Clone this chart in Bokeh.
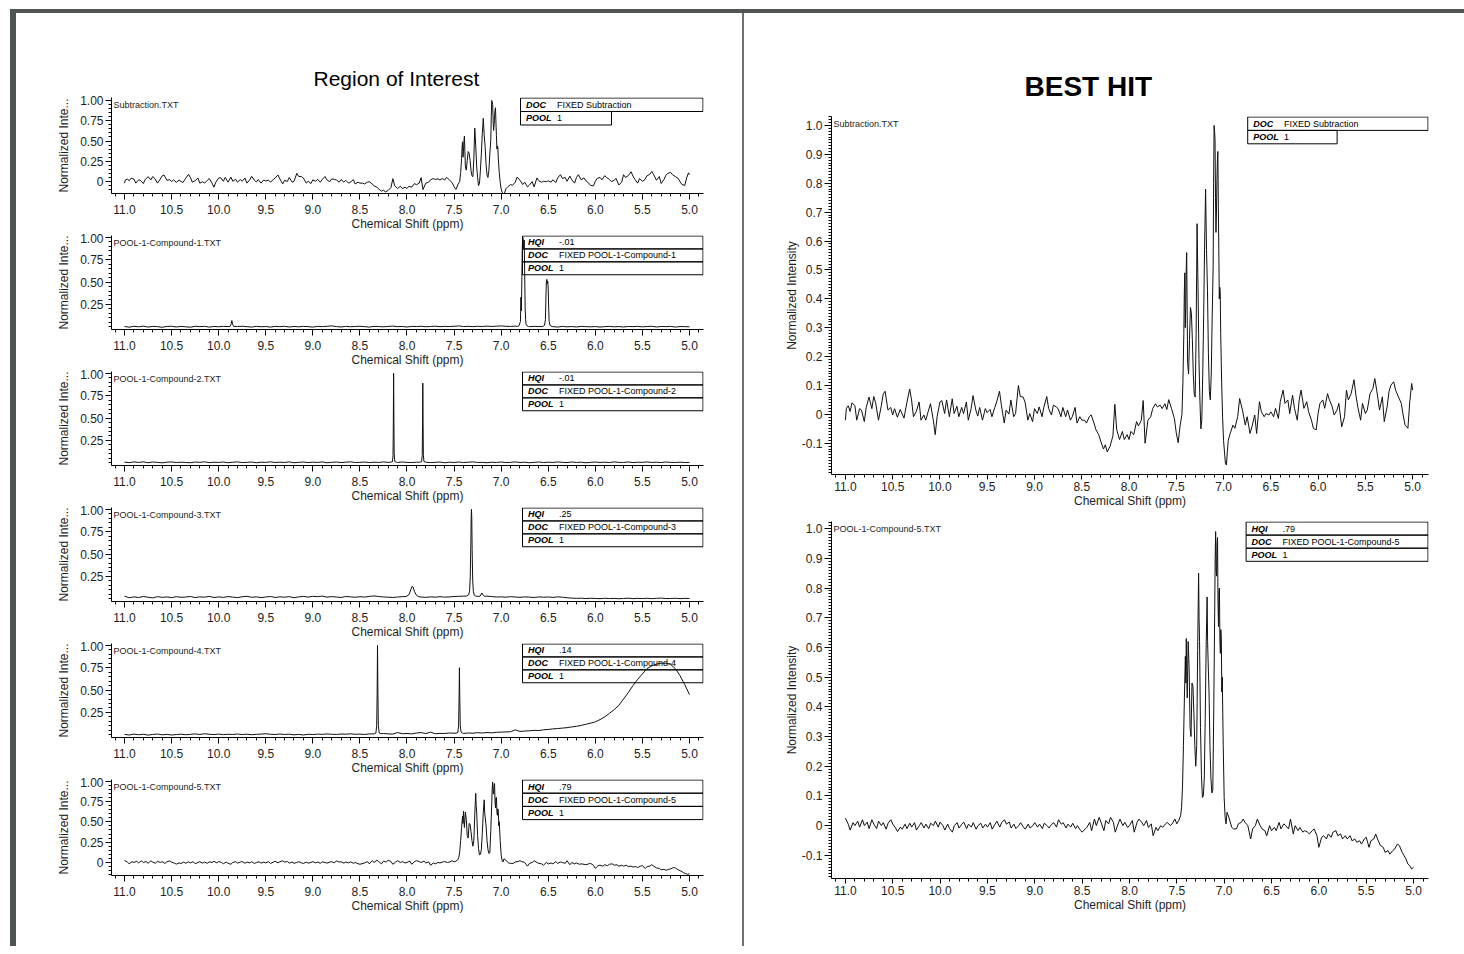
import numpy as np
from bokeh.plotting import figure
from bokeh.models import (Range1d, FixedTicker, CustomJSTickFormatter, Label,
                          Div, Spacer, ColumnDataSource)
from bokeh.layouts import column, row
from bokeh.embed import file_html
from bokeh.resources import INLINE

# ------------------------------------------------------------------ data
# Subtraction.TXT  (ppm, normalized intensity)
sub_a = [(11.00, -0.020), (10.99, 0.020), (10.97, 0.030), (10.95, 0.010), (10.93, 0.040),
         (10.90, 0.030), (10.88, -0.020), (10.85, 0.020), (10.83, 0.015), (10.80, -0.025),
         (10.78, 0.024), (10.75, 0.060), (10.72, 0.020), (10.70, 0.062), (10.68, 0.040),
         (10.65, -0.020), (10.62, 0.030), (10.60, 0.070), (10.58, 0.080), (10.55, 0.015),
         (10.52, 0.024), (10.50, -0.002), (10.48, 0.020), (10.45, -0.010), (10.42, 0.017),
         (10.38, -0.013), (10.35, 0.040), (10.32, 0.088), (10.30, 0.050), (10.28, -0.008),
         (10.25, 0.010), (10.22, 0.043), (10.20, -0.020), (10.17, -0.002), (10.15, -0.020),
         (10.12, 0.015), (10.10, 0.037), (10.07, -0.020), (10.05, -0.070), (10.03, -0.008),
         (10.00, 0.043), (9.98, 0.048), (9.95, 0.003), (9.93, 0.050), (9.90, -0.008),
         (9.87, 0.054), (9.85, 0.003), (9.82, 0.028), (9.80, -0.008), (9.77, 0.024),
         (9.75, 0.003), (9.72, 0.043), (9.70, -0.020), (9.67, 0.020), (9.65, 0.065),
         (9.62, 0.015), (9.60, -0.006), (9.58, 0.024), (9.55, -0.020), (9.52, 0.020),
         (9.50, 0.006), (9.47, 0.017), (9.45, -0.008), (9.42, 0.024), (9.40, 0.043),
         (9.37, 0.080), (9.35, 0.032), (9.32, -0.030), (9.30, 0.015), (9.27, 0.001),
         (9.25, 0.050), (9.22, -0.008), (9.20, 0.003), (9.17, 0.100), (9.15, 0.062),
         (9.12, 0.060), (9.10, 0.043), (9.07, -0.020), (9.05, 0.003), (9.02, -0.025)]
sub_b = [(9.00, 0.020), (8.97, 0.003), (8.95, 0.026), (8.92, -0.008), (8.90, 0.026),
         (8.87, 0.062), (8.85, 0.020), (8.82, -0.002), (8.80, 0.032), (8.77, 0.026),
         (8.75, 0.020), (8.72, -0.008), (8.70, 0.024), (8.67, -0.008), (8.65, 0.015),
         (8.62, -0.020), (8.60, -0.008), (8.57, 0.024), (8.55, -0.030), (8.52, -0.008),
         (8.50, -0.020), (8.47, -0.020), (8.45, -0.030), (8.42, -0.008), (8.40, -0.002),
         (8.37, -0.030), (8.35, -0.053), (8.32, -0.070), (8.30, -0.092), (8.27, -0.120),
         (8.25, -0.105), (8.23, -0.130), (8.20, -0.110), (8.17, -0.074), (8.15, 0.035),
         (8.13, -0.053), (8.10, -0.087), (8.07, -0.059), (8.05, -0.087), (8.02, -0.070),
         (8.00, -0.087), (7.98, -0.059), (7.95, -0.070), (7.92, -0.025), (7.90, -0.040),
         (7.87, -0.020), (7.85, 0.048), (7.83, -0.100), (7.80, -0.020), (7.77, -0.008),
         (7.75, 0.020), (7.72, 0.037), (7.70, 0.026), (7.67, 0.032), (7.65, 0.020),
         (7.62, 0.037), (7.60, 0.017), (7.58, 0.051), (7.55, 0.020), (7.52, -0.014),
         (7.50, -0.064), (7.48, -0.098), (7.46, -0.040)]
sub_peaks = [(7.44, 0.00), (7.43, 0.11), (7.42, 0.28), (7.415, 0.42), (7.41, 0.49),
             (7.405, 0.30), (7.40, 0.37), (7.395, 0.50), (7.39, 0.56), (7.38, 0.18),
             (7.37, 0.14), (7.36, 0.26), (7.35, 0.37), (7.34, 0.35), (7.33, 0.26),
             (7.32, 0.14), (7.31, 0.07), (7.30, 0.06), (7.29, 0.28), (7.28, 0.66),
             (7.27, 0.44), (7.26, 0.19), (7.25, 0.05), (7.24, -0.05), (7.23, -0.02),
             (7.22, 0.14), (7.21, 0.35), (7.20, 0.59), (7.19, 0.78), (7.18, 0.57),
             (7.17, 0.43), (7.16, 0.21), (7.15, 0.08), (7.14, 0.05), (7.13, 0.14),
             (7.12, 0.34), (7.11, 0.51), (7.105, 0.80), (7.10, 1.00), (7.095, 0.98),
             (7.09, 0.95), (7.085, 0.75), (7.08, 0.63), (7.075, 0.70), (7.07, 0.81),
             (7.065, 0.88), (7.06, 0.91), (7.055, 0.72), (7.05, 0.57), (7.045, 0.40),
             (7.04, 0.44), (7.035, 0.42), (7.03, 0.28), (7.02, 0.11), (7.01, -0.01),
             (7.00, -0.09), (6.99, -0.13), (6.98, -0.17), (6.97, -0.175), (6.96, -0.13),
             (6.95, -0.09)]
sub_c = [(6.93, -0.066), (6.90, -0.037), (6.88, -0.048), (6.85, -0.008), (6.83, 0.055),
         (6.80, 0.015), (6.77, -0.037), (6.75, -0.008), (6.72, -0.066), (6.70, -0.043),
         (6.67, -0.002), (6.65, -0.066), (6.62, 0.044), (6.60, 0.009), (6.57, -0.008),
         (6.55, 0.003), (6.52, -0.002), (6.50, 0.009), (6.47, -0.008), (6.45, 0.021),
         (6.42, -0.014), (6.40, 0.044), (6.37, 0.084), (6.35, 0.038), (6.32, 0.050),
         (6.30, 0.003), (6.27, 0.067), (6.25, 0.021), (6.22, -0.020), (6.20, 0.050),
         (6.18, 0.084), (6.15, 0.021), (6.12, 0.044), (6.10, 0.009), (6.07, -0.020),
         (6.05, -0.048), (6.02, -0.054), (6.00, 0.003), (5.98, 0.038), (5.95, 0.050),
         (5.93, 0.021), (5.90, 0.072), (5.88, 0.050), (5.85, 0.026), (5.83, -0.002),
         (5.80, 0.015), (5.78, 0.038), (5.75, -0.043), (5.72, -0.008), (5.70, 0.084),
         (5.68, 0.050), (5.65, 0.072), (5.62, 0.120), (5.60, 0.067), (5.58, 0.026),
         (5.55, -0.020), (5.53, 0.038), (5.50, 0.003), (5.48, 0.015), (5.45, 0.072),
         (5.42, 0.090), (5.40, 0.124), (5.38, 0.084), (5.35, 0.015), (5.32, 0.061),
         (5.30, -0.025), (5.27, 0.026), (5.25, 0.078), (5.23, 0.101), (5.20, 0.113),
         (5.18, 0.084), (5.15, 0.061), (5.12, 0.038), (5.10, -0.002), (5.08, -0.037),
         (5.05, -0.048), (5.03, 0.044), (5.01, 0.107), (5.00, 0.084)]

# POOL-1-Compound-5.TXT  (ppm, normalized intensity)
c5_a = [(11.00, 0.025), (10.97, 0.005), (10.95, -0.015), (10.92, 0.010), (10.90, 0.000),
        (10.87, 0.015), (10.85, -0.005), (10.82, 0.020), (10.80, 0.000), (10.77, 0.012),
        (10.75, -0.010), (10.72, 0.020), (10.70, 0.005), (10.67, -0.010), (10.65, 0.015),
        (10.62, 0.000), (10.60, 0.010), (10.57, -0.012), (10.55, 0.008), (10.52, 0.020),
        (10.50, 0.005), (10.47, -0.008), (10.45, -0.020), (10.42, -0.005), (10.40, -0.012),
        (10.37, 0.005), (10.35, -0.010), (10.32, 0.008), (10.30, -0.005), (10.27, 0.010),
        (10.25, -0.015), (10.22, 0.000), (10.20, 0.010), (10.17, -0.008), (10.15, 0.005),
        (10.12, -0.010), (10.10, 0.008), (10.07, 0.000), (10.05, 0.015), (10.02, -0.005),
        (10.00, 0.012), (9.97, 0.000), (9.95, -0.015), (9.92, 0.005), (9.90, -0.010),
        (9.87, -0.022), (9.85, 0.000), (9.82, 0.010), (9.80, -0.008), (9.77, 0.005),
        (9.75, 0.012), (9.72, -0.010), (9.70, 0.005), (9.67, -0.005), (9.65, 0.010),
        (9.62, -0.012), (9.60, 0.000), (9.57, 0.008), (9.55, -0.008), (9.52, 0.005),
        (9.50, -0.005), (9.47, 0.010), (9.45, -0.012), (9.42, 0.005), (9.40, 0.015),
        (9.37, -0.005), (9.35, 0.010), (9.32, 0.020), (9.30, 0.005), (9.27, 0.012),
        (9.25, -0.008), (9.22, 0.005), (9.20, -0.010), (9.17, 0.000), (9.15, 0.010),
        (9.12, -0.005), (9.10, -0.012), (9.07, 0.005), (9.05, -0.008), (9.02, 0.000),
        (9.00, 0.010), (8.97, -0.005), (8.95, 0.005), (8.92, -0.010), (8.90, 0.008),
        (8.87, 0.000), (8.85, -0.008), (8.82, 0.005), (8.80, 0.010), (8.77, -0.005),
        (8.75, 0.020), (8.72, 0.005), (8.70, 0.010), (8.67, -0.008), (8.65, 0.005),
        (8.62, -0.005), (8.60, 0.008), (8.57, -0.010), (8.55, 0.000), (8.52, -0.015)]
c5_b = [(8.50, -0.022), (8.45, -0.006), (8.42, 0.011), (8.40, -0.017), (8.37, 0.022),
        (8.35, 0.000), (8.32, 0.028), (8.30, 0.011), (8.27, -0.017), (8.25, 0.017),
        (8.22, 0.006), (8.20, 0.028), (8.17, 0.011), (8.15, -0.022), (8.12, 0.006),
        (8.10, 0.022), (8.07, 0.000), (8.05, 0.011), (8.02, -0.006), (8.00, 0.000),
        (7.97, 0.017), (7.95, -0.022), (7.92, 0.011), (7.90, 0.022), (7.87, 0.011),
        (7.85, 0.000), (7.82, 0.017), (7.80, -0.006), (7.77, 0.006), (7.75, -0.034),
        (7.72, -0.006), (7.70, -0.017), (7.67, 0.000), (7.65, -0.006), (7.62, 0.006),
        (7.60, 0.011), (7.57, 0.000), (7.55, 0.006), (7.52, 0.022), (7.50, 0.006),
        (7.48, 0.017), (7.46, 0.034)]
c5_peaks = [(7.45, 0.06), (7.44, 0.13), (7.43, 0.27), (7.42, 0.43), (7.41, 0.57),
            (7.405, 0.48), (7.40, 0.63), (7.395, 0.52), (7.39, 0.43), (7.38, 0.62),
            (7.37, 0.53), (7.36, 0.33), (7.35, 0.30), (7.34, 0.48), (7.33, 0.47),
            (7.32, 0.38), (7.31, 0.27), (7.30, 0.20), (7.29, 0.27), (7.28, 0.59),
            (7.27, 0.85), (7.265, 0.70), (7.26, 0.62), (7.25, 0.33), (7.24, 0.17),
            (7.23, 0.095), (7.22, 0.10), (7.21, 0.16), (7.20, 0.36), (7.19, 0.61),
            (7.18, 0.77), (7.175, 0.62), (7.17, 0.56), (7.16, 0.45), (7.15, 0.27),
            (7.14, 0.16), (7.13, 0.11), (7.12, 0.12), (7.11, 0.39), (7.10, 0.72),
            (7.095, 0.90), (7.09, 0.99), (7.085, 0.86), (7.08, 0.84), (7.075, 0.95),
            (7.07, 0.97), (7.065, 0.75), (7.06, 0.67), (7.055, 0.79), (7.05, 0.80),
            (7.045, 0.62), (7.04, 0.58), (7.035, 0.66), (7.03, 0.63), (7.025, 0.45),
            (7.02, 0.50), (7.01, 0.27), (7.00, 0.095), (6.99, 0.028), (6.98, 0.006)]
c5_c = [(6.97, 0.045), (6.95, 0.028), (6.92, -0.006), (6.90, -0.011), (6.87, -0.011),
        (6.85, 0.006), (6.82, 0.011), (6.80, 0.022), (6.78, 0.011), (6.75, 0.000),
        (6.72, -0.045), (6.70, -0.011), (6.67, 0.000), (6.65, 0.022), (6.62, 0.000),
        (6.60, -0.011), (6.57, -0.017), (6.55, -0.034), (6.52, 0.000), (6.50, -0.017),
        (6.47, -0.006), (6.45, -0.017), (6.42, 0.011), (6.40, -0.011), (6.37, 0.006),
        (6.35, 0.000), (6.32, -0.011), (6.30, 0.022), (6.27, -0.028), (6.25, 0.000),
        (6.22, -0.017), (6.20, -0.006), (6.17, -0.022), (6.15, -0.017), (6.12, -0.022),
        (6.10, -0.028), (6.07, -0.017), (6.05, -0.011), (6.02, -0.034), (6.00, -0.073),
        (5.97, -0.039), (5.95, -0.034), (5.92, -0.045), (5.90, -0.028), (5.87, -0.039),
        (5.85, -0.022), (5.82, -0.017), (5.80, -0.034), (5.77, -0.028), (5.75, -0.045),
        (5.72, -0.034), (5.70, -0.045), (5.67, -0.034), (5.65, -0.051), (5.62, -0.045),
        (5.60, -0.056), (5.57, -0.051), (5.55, -0.062), (5.52, -0.045), (5.50, -0.039),
        (5.47, -0.073), (5.45, -0.051), (5.42, -0.045), (5.40, -0.028), (5.38, -0.045),
        (5.35, -0.067), (5.32, -0.073), (5.30, -0.090), (5.27, -0.084), (5.25, -0.096),
        (5.22, -0.084), (5.20, -0.079), (5.17, -0.062), (5.15, -0.067), (5.12, -0.090),
        (5.10, -0.101), (5.08, -0.112), (5.06, -0.129), (5.04, -0.135), (5.02, -0.146),
        (5.00, -0.140)]

# Compound baselines sampled every 0.05 ppm from 11.00 to 5.00 (121 values)
c1_base = [0.004, -0.004, 0.006, 0.000, 0.008, -0.003, 0.005, 0.002, -0.005, 0.004,
           0.006, -0.002, 0.005, 0.000, -0.004, 0.006, 0.002, 0.005, -0.003, 0.004,
           0.001, 0.005, 0.003, -0.002, 0.004, 0.006, 0.002, -0.003, 0.005, 0.001,
           0.003, -0.003, 0.005, 0.002, 0.006, -0.002, 0.004, 0.000, 0.005, 0.002,
           -0.003, 0.005, 0.002, 0.006, 0.010, 0.003, -0.002, 0.005, 0.001, 0.004,
           0.006, 0.002, -0.003, 0.005, 0.003, 0.000, 0.005, 0.008, 0.002, 0.004,
           -0.002, 0.005, 0.003, 0.006, 0.001, 0.004, 0.007, 0.002, 0.005, 0.003,
           0.006, 0.010, 0.003, 0.005, 0.002, 0.006, 0.003, 0.008, 0.004, 0.007,
           0.010, 0.006, 0.004, 0.008, 0.006, 0.003, 0.002, 0.005, 0.003, 0.002,
           0.003, 0.002, -0.003, 0.005, 0.000, 0.003, -0.002, 0.005, 0.002, 0.000,
           0.003, -0.003, 0.002, 0.005, 0.000, 0.003, -0.002, 0.004, 0.002, 0.005,
           0.000, 0.003, 0.006, -0.002, 0.004, 0.002, 0.005, -0.003, 0.003, 0.002,
           0.000]
c1_spike = [(9.88, 0.004), (9.868, 0.03), (9.86, 0.07), (9.852, 0.03), (9.84, 0.004)]
c1_peak_a = [(6.83, 0.004), (6.81, 0.012), (6.795, 0.06), (6.79, 0.33), (6.785, 0.18),
             (6.78, 0.55), (6.775, 0.90), (6.77, 1.00), (6.765, 0.96), (6.76, 0.88),
             (6.755, 0.97), (6.75, 0.60), (6.745, 0.22), (6.74, 0.08), (6.735, 0.03),
             (6.725, 0.01), (6.71, 0.004)]
c1_peak_b = [(6.56, 0.003), (6.54, 0.015), (6.53, 0.08), (6.525, 0.30), (6.52, 0.50),
             (6.515, 0.53), (6.51, 0.48), (6.505, 0.51), (6.50, 0.42), (6.495, 0.20),
             (6.49, 0.06), (6.48, 0.015), (6.46, 0.003)]

c2_base = [0.008, 0.002, 0.010, 0.004, 0.011, 0.001, 0.009, 0.005, 0.000, 0.007,
           0.010, 0.003, 0.007, 0.004, 0.001, 0.009, 0.005, 0.011, 0.002, 0.007,
           0.004, 0.009, 0.001, 0.007, 0.010, 0.003, 0.005, 0.009, 0.001, 0.007,
           0.005, 0.011, 0.003, 0.007, 0.004, 0.010, 0.001, 0.005, 0.009, 0.003,
           0.007, 0.004, 0.010, 0.001, 0.005, 0.009, 0.003, 0.007, 0.011, 0.004,
           0.005, 0.009, 0.003, 0.007, 0.004, 0.010, 0.005, 0.007, 0.004, 0.009,
           0.005, 0.003, 0.007, 0.004, 0.010, 0.003, 0.005, 0.009, 0.001, 0.007,
           0.004, 0.009, 0.003, 0.007, 0.010, 0.004, 0.005, 0.001, 0.007, 0.004,
           0.009, 0.003, 0.005, 0.010, 0.004, 0.007, 0.001, 0.005, 0.009, 0.003,
           0.007, 0.004, 0.010, 0.005, 0.003, 0.009, 0.004, 0.007, 0.001, 0.005,
           0.009, 0.004, 0.007, 0.003, 0.010, 0.005, 0.004, 0.009, 0.003, 0.007,
           0.005, 0.010, 0.004, 0.007, 0.003, 0.009, 0.005, 0.004, 0.007, 0.003,
           0.005]
c2_peak_a = [(8.18, 0.006), (8.155, 0.012), (8.148, 0.08), (8.145, 0.45), (8.142, 1.00),
             (8.139, 0.50), (8.136, 0.10), (8.13, 0.015), (8.11, 0.006)]
c2_peak_b = [(7.87, 0.006), (7.845, 0.012), (7.838, 0.08), (7.835, 0.42), (7.832, 0.89),
             (7.829, 0.45), (7.826, 0.09), (7.82, 0.015), (7.80, 0.006)]

c3_base = [0.030, 0.012, 0.022, 0.015, 0.025, 0.018, 0.010, 0.024, 0.016, 0.021,
           0.013, 0.024, 0.017, 0.020, 0.026, 0.014, 0.022, 0.018, 0.027, 0.015,
           0.021, 0.016, 0.025, 0.019, 0.013, 0.023, 0.028, 0.017, 0.022, 0.014,
           0.020, 0.026, 0.015, 0.022, 0.018, 0.024, 0.013, 0.021, 0.027, 0.019,
           0.028, 0.024, 0.030, 0.018, 0.025, 0.020, 0.015, 0.026, 0.022, 0.017,
           0.024, 0.019, 0.027, 0.032, 0.026, 0.021, 0.018, 0.015, 0.020, 0.024,
           0.025, 0.030, 0.028, 0.020, 0.016, 0.022, 0.018, 0.024, 0.019, 0.021,
           0.026, 0.028, 0.030, 0.035, 0.030, 0.028, 0.024, 0.030, 0.025, 0.020,
           0.022, 0.018, 0.024, 0.020, 0.016, 0.022, 0.019, 0.015, 0.021, 0.018,
           0.020, 0.016, 0.022, 0.018, 0.012, 0.008, 0.005, 0.007, 0.003, 0.006,
           0.004, 0.002, 0.006, 0.003, 0.005, 0.001, 0.004, 0.007, 0.002, 0.005,
           0.003, 0.006, 0.002, 0.005, 0.008, 0.003, 0.004, 0.006, 0.002, 0.005,
           0.004]
c3_bump_a = [(8.01, 0.025), (7.98, 0.045), (7.96, 0.10), (7.945, 0.14), (7.935, 0.13),
             (7.92, 0.08), (7.90, 0.04), (7.88, 0.025)]
c3_peak = [(7.37, 0.030), (7.345, 0.045), (7.335, 0.09), (7.328, 0.25), (7.322, 0.60),
           (7.318, 0.92), (7.315, 1.00), (7.312, 0.90), (7.308, 0.55), (7.302, 0.20),
           (7.295, 0.08), (7.285, 0.04), (7.27, 0.030)]
c3_bump_b = [(7.225, 0.028), (7.205, 0.065), (7.19, 0.040), (7.175, 0.028)]

c4_base = [0.005, -0.002, 0.008, 0.001, 0.006, -0.003, 0.004, 0.009, 0.000, 0.005,
           -0.002, 0.003, 0.007, 0.001, 0.005, 0.010, 0.004, 0.012, 0.006, 0.003,
           0.008, 0.002, 0.006, 0.004, 0.009, 0.003, 0.007, 0.001, 0.005, 0.008,
           0.012, 0.006, 0.003, 0.009, 0.004, 0.007, 0.000, 0.005, -0.002, 0.006,
           0.003, 0.008, 0.005, 0.010, 0.006, 0.004, 0.009, 0.007, 0.011, 0.006,
           0.008, 0.004, 0.010, 0.012, 0.006, 0.015, 0.010, 0.008, 0.025, 0.012,
           0.015, 0.010, 0.020, 0.025, 0.014, 0.030, 0.012, 0.016, 0.015, 0.020,
           0.018, 0.022, 0.016, 0.020, 0.018, 0.024, 0.020, 0.026, 0.022, 0.028,
           0.030, 0.032, 0.035, 0.055, 0.038, 0.042, 0.045, 0.050, 0.048, 0.056,
           0.060, 0.066, 0.070, 0.075, 0.080, 0.088, 0.095, 0.105, 0.118, 0.130,
           0.145, 0.170, 0.200, 0.240, 0.280, 0.330, 0.400, 0.470, 0.550, 0.620,
           0.680, 0.740, 0.770, 0.790, 0.800, 0.800, 0.785, 0.740, 0.660, 0.560,
           0.450]
c4_peak_a = [(8.35, 0.010), (8.33, 0.020), (8.322, 0.10), (8.317, 0.45), (8.313, 1.00),
             (8.309, 0.50), (8.304, 0.10), (8.295, 0.020), (8.275, 0.012)]
c4_peak_b = [(7.48, 0.018), (7.46, 0.025), (7.452, 0.10), (7.447, 0.38), (7.443, 0.75),
             (7.439, 0.40), (7.434, 0.10), (7.425, 0.030), (7.41, 0.018)]

# annotation table texts
hqi_values = ["-.01", "-.01", ".25", ".14", ".79"]
doc_values = ["FIXED POOL-1-Compound-1", "FIXED POOL-1-Compound-2", "FIXED POOL-1-Compound-3",
              "FIXED POOL-1-Compound-4", "FIXED POOL-1-Compound-5"]
file_names = ["POOL-1-Compound-1.TXT", "POOL-1-Compound-2.TXT", "POOL-1-Compound-3.TXT",
              "POOL-1-Compound-4.TXT", "POOL-1-Compound-5.TXT"]

# ------------------------------------------------------------------ helpers
FONT = "Liberation Sans"
LINE_COLOR = "#101010"
TEXT_COLOR = "#1e1e1e"


def from_pairs(*segments):
    pts = sorted([p for s in segments for p in s], key=lambda p: -p[0])
    return np.array([p[0] for p in pts]), np.array([p[1] for p in pts])


def from_base(base, *groups):
    assert len(base) == 121, len(base)
    grid = np.round(np.linspace(11.0, 5.0, 121), 3)
    keep = np.ones(len(grid), bool)
    for g in groups:
        gx = [p[0] for p in g]
        keep &= ~((grid >= min(gx) - 1e-9) & (grid <= max(gx) + 1e-9))
    xs = list(grid[keep]) + [p[0] for g in groups for p in g]
    ys = list(np.array(base)[keep]) + [p[1] for g in groups for p in g]
    order = np.argsort(xs)[::-1]
    return np.array(xs)[order], np.array(ys)[order]


X_MAJOR = [round(11.0 - 0.5 * i, 2) for i in range(13)]
X_MINOR = [round(11.1 - 0.1 * i, 2) for i in range(63)]

fmt1 = CustomJSTickFormatter(code="return Math.abs(tick) < 1e-9 ? '0' : tick.toFixed(1);")
fmt2 = CustomJSTickFormatter(code="return Math.abs(tick) < 1e-9 ? '0' : tick.toFixed(2);")


def spectrum_fig(ppm, inten, *, fw, fh, bl, br, bt, bb, xr, yr, yticks, ystep, yfmt,
                 ytitle, file_label, rows, box_l, row_h, big=False, title=None):
    p = figure(width=bl + fw + br, height=bt + fh + bb,
               x_range=Range1d(*xr), y_range=Range1d(*yr),
               output_backend="svg", toolbar_location=None, tools="",
               min_border_left=bl, min_border_right=br,
               min_border_top=bt, min_border_bottom=bb, title=title)
    p.outline_line_color = None
    p.xgrid.visible = False
    p.ygrid.visible = False
    p.background_fill_color = "white"
    p.border_fill_color = "white"

    def sx(px):
        return xr[0] + (xr[1] - xr[0]) * px / fw

    def sy(py):
        return yr[1] - (yr[1] - yr[0]) * py / fh

    # annotation table (under the trace)
    for i, (key, val, rright) in enumerate(rows):
        top = 0.5 + i * row_h
        bot = top + row_h
        p.quad(left=sx(box_l), right=sx(rright), top=sy(top), bottom=sy(bot),
               fill_color=None, line_color="black", line_width=1)
        p.add_layout(Label(x=sx(box_l + 5.5), y=sy((top + bot) / 2), text=key,
                           text_font=FONT, text_font_size="9px",
                           text_font_style="bold italic", text_color="black",
                           text_baseline="middle", text_align="left"))
        p.add_layout(Label(x=sx(box_l + 36.5), y=sy((top + bot) / 2), text=val,
                           text_font=FONT, text_font_size="9px",
                           text_color="black", text_baseline="middle", text_align="left"))

    src = ColumnDataSource(dict(ppm=ppm, inten=inten))
    p.line("ppm", "inten", source=src, line_color=LINE_COLOR, line_width=1)

    p.add_layout(Label(x=xr[0], y=yr[1], x_offset=2, y_offset=-2, text=file_label,
                       text_font=FONT, text_font_size="9px", text_color=TEXT_COLOR,
                       text_baseline="top", text_align="left"))

    xa = p.xaxis[0]
    ya = p.yaxis[0]
    xa.ticker = FixedTicker(ticks=X_MAJOR, minor_ticks=X_MINOR)
    xa.formatter = fmt1
    xa.axis_label = "Chemical Shift (ppm)"
    lo = np.ceil((yr[0] - 1e-9) / ystep) * ystep
    yminor = [round(v, 3) for v in np.arange(lo, yr[1] + 1e-9, ystep)]
    ya.ticker = FixedTicker(ticks=yticks, minor_ticks=yminor)
    ya.formatter = yfmt
    ya.axis_label = ytitle
    for a in (xa, ya):
        a.axis_line_color = "black"
        a.axis_line_width = 1
        a.major_tick_line_color = "black"
        a.minor_tick_line_color = "black"
        a.major_tick_in = 0
        a.minor_tick_in = 0
        a.minor_tick_out = 3
        a.major_label_text_font = FONT
        a.major_label_text_font_size = "12px"
        a.major_label_text_color = TEXT_COLOR
        a.axis_label_text_font = FONT
        a.axis_label_text_font_size = "12px"
        a.axis_label_text_font_style = "normal"
        a.axis_label_text_color = TEXT_COLOR
    if big:
        xa.major_tick_out = 5
        xa.major_label_standoff = 2
        ya.major_tick_out = 7
        ya.major_label_standoff = 2
        ya.axis_label_standoff = 0
        xa.axis_label_standoff = 0
    else:
        xa.major_tick_out = 6
        xa.major_label_standoff = 5
        ya.major_tick_out = 6
        ya.major_label_standoff = 2
        ya.axis_label_standoff = 6
        xa.axis_label_standoff = 0
    return p


# ------------------------------------------------------------------ left column
sub_x, sub_y = from_pairs(sub_a, sub_b, sub_peaks, sub_c)
c5_x, c5_y = from_pairs(c5_a, c5_b, c5_peaks, c5_c)
compounds = [
    from_base(c1_base, c1_spike, c1_peak_a, c1_peak_b),
    from_base(c2_base, c2_peak_a, c2_peak_b),
    from_base(c3_base, c3_bump_a, c3_peak, c3_bump_b),
    from_base(c4_base, c4_peak_a, c4_peak_b),
    (c5_x, c5_y),
]

L_FW, L_BL, L_BR = 592, 95, 39
L_XR = (11.138, 4.851)
TICKS_0 = [0.0, 0.25, 0.5, 0.75, 1.0]
TICKS_25 = [0.25, 0.5, 0.75, 1.0]
BOX_L, BOX_R = 411, 591.5

f1 = spectrum_fig(sub_x, sub_y, fw=L_FW, fh=96, bl=L_BL, br=L_BR, bt=84, bb=40,
                  xr=L_XR, yr=(-0.148, 1.037), yticks=TICKS_0, ystep=0.05, yfmt=fmt2,
                  ytitle="Normalized Inte...", file_label="Subtraction.TXT",
                  rows=[("DOC", "FIXED Subtraction", BOX_R), ("POOL", "1", 500)],
                  box_l=409, row_h=13.5, title="Region of Interest")
f1.title.text_font = FONT
f1.title.text_font_size = "21px"
f1.title.text_font_style = "normal"
f1.title.text_color = "black"
f1.title.align = "left"
f1.title.offset = 202
f1.title.standoff = 15

left_figs = [f1]
for i, (cx, cy) in enumerate(compounds):
    last = i == 4
    rows = [("HQI", hqi_values[i], BOX_R), ("DOC", doc_values[i], BOX_R), ("POOL", "1", BOX_R)]
    f = spectrum_fig(cx, cy, fw=L_FW, fh=96, bl=L_BL, br=L_BR, bt=2, bb=71 if last else 38,
                     xr=L_XR, yr=(-0.16, 1.02) if last else (-0.03, 1.02),
                     yticks=TICKS_0 if last else TICKS_25, ystep=0.05, yfmt=fmt2,
                     ytitle="Normalized Inte...", file_label=file_names[i],
                     rows=rows, box_l=BOX_L, row_h=13.2)
    left_figs.append(f)

# ------------------------------------------------------------------ right column
R_TICKS = [round(-0.1 + 0.1 * i, 1) for i in range(12)]
r1 = spectrum_fig(sub_x, sub_y, fw=601, fh=358, bl=83, br=28, bt=103, bb=41,
                  xr=(11.147, 4.832), yr=(-0.208, 1.031), yticks=R_TICKS, ystep=0.01,
                  yfmt=fmt1, ytitle="Normalized Intensity", file_label="Subtraction.TXT",
                  rows=[("DOC", "FIXED Subtraction", 600.5), ("POOL", "1", 509)],
                  box_l=419, row_h=13.4, big=True, title="BEST HIT")
r1.title.text_font = FONT
r1.title.text_font_size = "28px"
r1.title.text_font_style = "bold"
r1.title.text_color = "black"
r1.title.align = "left"
r1.title.offset = 193
r1.title.standoff = 30

r2 = spectrum_fig(c5_x, c5_y, fw=599, fh=357, bl=87, br=26, bt=6, bb=68,
                  xr=(11.147, 4.842), yr=(-0.178, 1.024), yticks=R_TICKS, ystep=0.01,
                  yfmt=fmt1, ytitle="Normalized Intensity", file_label="POOL-1-Compound-5.TXT",
                  rows=[("HQI", ".79", 598.5), ("DOC", "FIXED POOL-1-Compound-5", 598.5),
                        ("POOL", "1", 598.5)],
                  box_l=416, row_h=13.1, big=True)

# ------------------------------------------------------------------ page frame
BAR = "#505454"
top_bar = Div(text="", width=1454, height=4, margin=(0, 0, 0, 0),
              styles={"background-color": BAR})
left_bar = Div(text="", width=6, height=933, margin=(0, 0, 0, 0),
               styles={"background-color": BAR})
divider = Div(text="", width=2, height=933, margin=(0, 0, 0, 0),
              styles={"background-color": "#707070"})

body = row(Spacer(width=10, height=933), left_bar, column(*left_figs), divider,
           column(r1, r2))
page = column(Spacer(width=10, height=9), row(Spacer(width=10, height=4), top_bar), body)

open("out.html", "w").write(file_html(page, INLINE))
